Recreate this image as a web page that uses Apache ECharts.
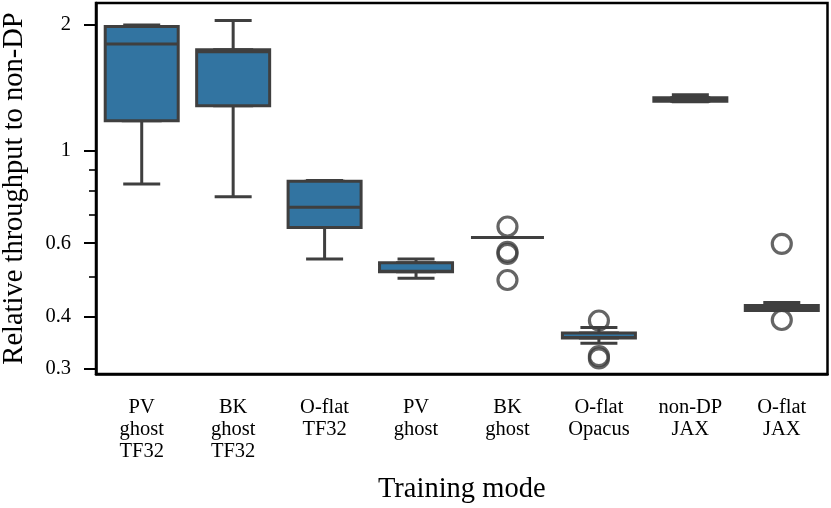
<!DOCTYPE html>
<html>
<head>
<meta charset="utf-8">
<script src="https://cdn.jsdelivr.net/npm/echarts@6/dist/echarts.min.js"></script>
<style>
  html, body { margin: 0; padding: 0; background: #fff; }
  #main { width: 831px; height: 508px; }
</style>
</head>
<body>
<div id="main"></div>
<script>
// training modes on the x axis
const categories = ['PV\nghost\nTF32', 'BK\nghost\nTF32', 'O-flat\nTF32', 'PV\nghost',
    'BK\nghost', 'O-flat\nOpacus', 'non-DP\nJAX', 'O-flat\nJAX'];

// box stats (relative throughput)
const whiskerLow  = [0.831, 0.775, 0.550, 0.495, 0.619, 0.346, 1.308, 0.414];
const q1          = [1.178, 1.280, 0.654, 0.513, 0.619, 0.356, 1.311, 0.414];
const median      = [1.798, 1.723, 0.732, 0.514, 0.619, 0.357, 1.324, 0.420];
const q3          = [1.980, 1.742, 0.844, 0.539, 0.619, 0.366, 1.337, 0.426];
const whiskerHigh = [1.997, 2.048, 0.848, 0.550, 0.619, 0.377, 1.359, 0.433];

// outliers: category index + value
const outlierIdx = [4, 4, 4, 4, 5, 5, 5, 7, 7];
const outlierVal = [0.658, 0.572, 0.566, 0.490, 0.392, 0.322, 0.318, 0.598, 0.393];

const majorTicks = [0.3, 0.4, 0.6, 1, 2];
const minorTicks = [0.5, 0.7, 0.8, 0.9];

const FONT = 'Liberation Serif';
const LINE = '#3f3f3f';
const FILL = '#3274a1';

// full box with caps on the box edges, and a narrow one that only gives the whiskers
const boxData = categories.map((c, i) => [q1[i], q1[i], median[i], q3[i], q3[i]]);
const whiskerData = categories.map((c, i) => [whiskerLow[i], q1[i], median[i], q3[i], whiskerHigh[i]]);
const outliers = outlierIdx.map((k, i) => [k, outlierVal[i]]);

const chart = echarts.init(document.getElementById('main'));

const yBase = {
    type: 'log',
    logBase: 10,
    min: 0.2919,
    max: 2.254,
    position: 'left',
    splitLine: {show: false},
};

chart.setOption({
    animation: false,
    grid: {
        left: 96, right: 3.5, top: 3, bottom: 134,
        outerBoundsMode: 'none',
        show: true,
        borderColor: '#000',
        borderWidth: 2.5,
        backgroundColor: 'transparent'
    },
    xAxis: [
        {
            type: 'category',
            data: categories,
            position: 'bottom',
            name: 'Training mode',
            nameLocation: 'middle',
            nameGap: 101,
            nameTextStyle: {fontFamily: FONT, fontSize: 28.5, color: '#000'},
            axisLine: {lineStyle: {color: '#000', width: 2.5}},
            axisTick: {alignWithLabel: true, length: 12, lineStyle: {color: '#000', width: 2}},
            axisLabel: {
                interval: 0,
                margin: 23,
                fontFamily: FONT,
                fontSize: 20.5,
                lineHeight: 22,
                color: '#000'
            }
        },
        {
            type: 'category',
            data: categories,
            position: 'bottom',
            show: false
        }
    ],
    yAxis: [
        Object.assign({}, yBase, {
            name: 'Relative throughput to non-DP',
            nameLocation: 'middle',
            nameGap: 67,
            nameTextStyle: {fontFamily: FONT, fontSize: 28.5, color: '#000'},
            axisLine: {show: true, lineStyle: {color: '#000', width: 2.5}},
            axisTick: {show: true, customValues: majorTicks, length: 12, lineStyle: {color: '#000', width: 2}},
            axisLabel: {
                customValues: majorTicks,
                margin: 25,
                fontFamily: FONT,
                fontSize: 20.5,
                color: '#000',
                formatter: v => String(Math.round(v * 100) / 100)
            }
        }),
        Object.assign({}, yBase, {
            axisLine: {show: false},
            axisTick: {show: true, customValues: minorTicks, length: 7, lineStyle: {color: '#000', width: 1.6}},
            axisLabel: {show: false}
        })
    ],
    series: [
        {
            type: 'boxplot',
            xAxisIndex: 1,
            yAxisIndex: 0,
            boxWidth: [37, 37],
            data: whiskerData,
            itemStyle: {color: FILL, borderColor: LINE, borderWidth: 3},
            emphasis: {disabled: true},
            z: 2
        },
        {
            type: 'boxplot',
            xAxisIndex: 0,
            yAxisIndex: 0,
            boxWidth: [73, 73],
            data: boxData,
            itemStyle: {color: FILL, borderColor: LINE, borderWidth: 3},
            emphasis: {disabled: true},
            z: 3
        },
        {
            type: 'scatter',
            xAxisIndex: 0,
            yAxisIndex: 0,
            data: outliers,
            symbol: 'circle',
            symbolSize: 19,
            itemStyle: {color: 'rgba(0,0,0,0)', borderColor: LINE, borderWidth: 3.2},
            emphasis: {disabled: true},
            z: 4
        }
    ]
});
</script>
</body>
</html>
